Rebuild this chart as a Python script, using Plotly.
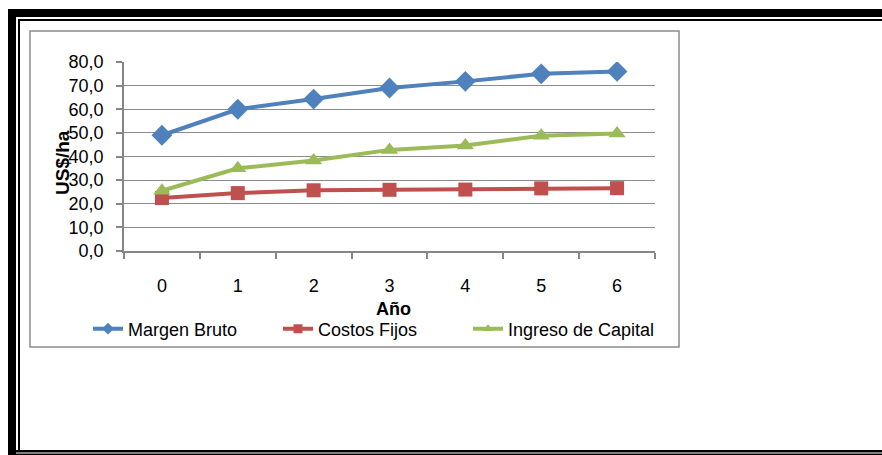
import plotly.graph_objects as go

# Years and series (US$/ha)
years = ["0", "1", "2", "3", "4", "5", "6"]
margen_bruto = [49.0, 60.0, 64.3, 69.0, 71.8, 75.0, 76.0]
costos_fijos = [22.4, 24.5, 25.7, 25.9, 26.0, 26.5, 26.6]
ingreso_capital = [25.5, 35.0, 38.3, 42.8, 44.7, 48.8, 49.7]

W, H = 882, 455
PL, PR, PT, PB = 124, 655, 62, 251  # plot area in pixels


def fx(px):
    return (px - PL) / (PR - PL)


def fy(py):
    return (PB - py) / (PB - PT)


FONT = "Arial, Liberation Sans, sans-serif"

fig = go.Figure()
series = [
    ("Margen Bruto", margen_bruto, "#4F81BD", "diamond", 16),
    ("Costos Fijos", costos_fijos, "#C0504D", "square", 14),
    ("Ingreso de Capital", ingreso_capital, "#9BBB59", "triangle-up", 15),
]
for name, vals, color, sym, size in series:
    fig.add_trace(go.Scatter(
        x=years, y=vals, name=name, mode="lines+markers",
        legendgroup=name, showlegend=False,
        line=dict(color=color, width=4),
        marker=dict(symbol=sym, size=size, color=color, line=dict(width=0)),
    ))
# legend entries with smaller key markers
for name, vals, color, sym, size in series:
    fig.add_trace(go.Scatter(
        x=[None], y=[None], name=name, mode="lines+markers",
        legendgroup=name, showlegend=True,
        line=dict(color=color, width=4),
        marker=dict(symbol=sym, size=9, color=color, line=dict(width=0)),
    ))


def rect(x0, y0, x1, y1, fill=None, line=None, lw=0):
    return dict(type="rect", xref="paper", yref="paper",
                x0=fx(x0), x1=fx(x1), y0=fy(y0), y1=fy(y1),
                fillcolor=fill if fill else "rgba(0,0,0,0)",
                line=dict(color=line if line else "rgba(0,0,0,0)", width=lw),
                layer="below")


shapes = [
    # chart frame
    rect(30, 31, 679, 347, line="#8C8C8C", lw=1.5),
    # page border: thick-thin double rule
    rect(8, 9, 882, 17, fill="black"),
    rect(18, 19, 882, 21, fill="black"),
    rect(8, 9, 16, 455, fill="black"),
    rect(18, 19, 20, 452, fill="black"),
    rect(8, 450, 882, 452.5, fill="black"),
    rect(8, 453.5, 882, 455, fill="black"),
]

fig.update_layout(
    width=W, height=H,
    margin=dict(l=PL, r=W - PR, t=PT, b=H - PB, pad=0),
    paper_bgcolor="white", plot_bgcolor="white",
    font=dict(family=FONT, size=18, color="black"),
    separators=", ",
    showlegend=True,
    legend=dict(orientation="h", x=fx(88), y=fy(329), xanchor="left",
                yanchor="middle", font=dict(size=18), bgcolor="rgba(0,0,0,0)",
                itemwidth=30, entrywidth=145, entrywidthmode="pixels",
                tracegroupgap=0),
    shapes=shapes,
    annotations=[
        dict(text="<b>US$/ha</b>", x=fx(62), y=fy(163), xref="paper", yref="paper",
             showarrow=False, textangle=-90, font=dict(size=19),
             xanchor="center", yanchor="middle"),
        dict(text="<b>Año</b>", x=fx(393), y=fy(309), xref="paper", yref="paper",
             showarrow=False, font=dict(size=18),
             xanchor="center", yanchor="middle"),
    ],
)

fig.update_xaxes(
    type="category", range=[-0.5, 6.5], tickson="boundaries",
    ticks="outside", ticklen=6, tickcolor="#868686", tickwidth=1.5,
    showline=True, linecolor="#868686", linewidth=1.5,
    showgrid=False, zeroline=False, ticklabelstandoff=18,
    tickfont=dict(size=18),
)
fig.update_yaxes(
    range=[0, 80], dtick=10, tickformat=".1f",
    ticks="outside", ticklen=6, tickcolor="#868686", tickwidth=1.5,
    showline=True, linecolor="#868686", linewidth=1.5,
    showgrid=True, gridcolor="#8C8C8C", gridwidth=1.2, zeroline=False,
    ticklabelstandoff=9, tickfont=dict(size=18),
)

fig.write_html("out.html")
